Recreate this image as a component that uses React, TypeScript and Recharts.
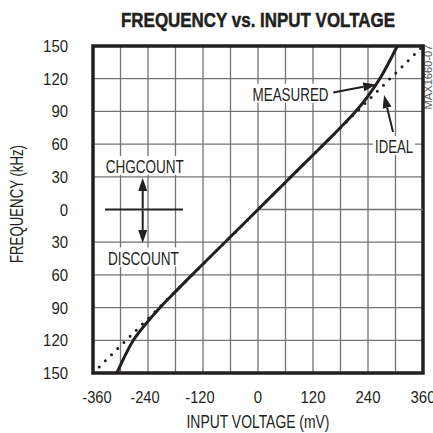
import { CartesianGrid, Line, LineChart, ReferenceArea, ReferenceDot, ReferenceLine, XAxis, YAxis } from 'recharts';

const FONT = '"Liberation Sans", Arial, "DejaVu Sans", sans-serif';
const INK = '#231f20';
const GRID = '#737373';

// axes
const voltageTicks = [-360, -300, -240, -180, -120, -60, 0, 60, 120, 180, 240, 300, 360];
const freqTicks = [-150, -120, -90, -60, -30, 0, 30, 60, 90, 120, 150];
const freqGrid = [-120, -90, -60, -30, 30, 60, 90, 120];

// measured transfer curve (mV -> kHz)
const measuredV = [-308, -272, -245, -215, -180, -150, -120, -60, 0, 60, 120, 150, 180, 210, 240, 270, 304];
const measuredF = [-150, -120, -105, -90.5, -75.3, -62.5, -50, -25, 0, 25, 50, 62.5, 75.3, 88.5, 104, 123, 150];

// ideal transfer line
const idealV = [-360, -300, -240, -180, -120, -60, 0, 60, 120, 180, 240, 300, 360];
const idealF = [-150, -125, -100, -75, -50, -25, 0, 25, 50, 75, 100, 125, 150];

const measured = measuredV.map((v, i) => ({ v, f: measuredF[i] }));
const ideal = idealV.map((v, i) => ({ v, f: idealF[i] }));

// narrow-font look: squeeze glyphs to the measured width
const numWidth = (s: string) => s.replace('-', '').length * 8.3 + (s.startsWith('-') ? 4.5 : 0);

function Arrow({ x1, y1, x2, y2 }: { x1: number; y1: number; x2: number; y2: number }) {
  const len = Math.hypot(x2 - x1, y2 - y1);
  const ux = (x2 - x1) / len;
  const uy = (y2 - y1) / len;
  const head = 13;
  const half = 4.5;
  const bx = x2 - ux * head;
  const by = y2 - uy * head;
  return (
    <g>
      <line x1={x1} y1={y1} x2={bx} y2={by} stroke={INK} strokeWidth={2} />
      <polygon
        points={`${x2},${y2} ${bx - uy * half},${by + ux * half} ${bx + uy * half},${by - ux * half}`}
        fill={INK}
      />
    </g>
  );
}

function Tag({ x, y, text, width }: { x: number; y: number; text: string; width: number }) {
  return (
    <g>
      <rect x={x - width / 2 - 2} y={y - 17} width={width + 4} height={19} fill="#fff" />
      <text
        x={x}
        y={y}
        textAnchor="middle"
        fontFamily={FONT}
        fontSize={19}
        fill={INK}
        textLength={width}
        lengthAdjust="spacingAndGlyphs"
      >
        {text}
      </text>
    </g>
  );
}

function CountMarker({ cx, cy }: any) {
  return (
    <g>
      <Tag x={cx - 3.3} y={cy - 36.6} text="CHGCOUNT" width={78} />
      <Tag x={cx - 4.6} y={cy + 55} text="DISCOUNT" width={71} />
      <line x1={cx - 43} y1={cy} x2={cx + 35} y2={cy} stroke={INK} strokeWidth={2} />
      <Arrow x1={cx - 5.3} y1={cy - 1} x2={cx - 5.3} y2={cy - 31.6} />
      <Arrow x1={cx - 5.3} y1={cy + 1} x2={cx - 5.3} y2={cy + 33.4} />
    </g>
  );
}

function MeasuredNote({ cx, cy }: any) {
  return (
    <g>
      <Tag x={cx - 85.7} y={cy + 16.3} text="MEASURED" width={76} />
      <Arrow x1={cx - 43} y1={cy + 8} x2={cx} y2={cy} />
    </g>
  );
}

function IdealNote({ cx, cy }: any) {
  return (
    <g>
      <Tag x={cx + 10} y={cy + 58} text="IDEAL" width={38} />
      <Arrow x1={cx + 9} y1={cy + 37} x2={cx} y2={cy} />
    </g>
  );
}

function VoltTick({ x, y, payload }: any) {
  const v = payload.value;
  if (v % 120 !== 0) return null;
  const label = String(v);
  const dx = v === -360 ? 4 : v < 0 ? -3 : 0;
  return (
    <text
      x={x + dx}
      y={y + 30}
      textAnchor="middle"
      fontFamily={FONT}
      fontSize={17}
      fill={INK}
      textLength={numWidth(label)}
      lengthAdjust="spacingAndGlyphs"
    >
      {label}
    </text>
  );
}

function FreqTick({ x, y, payload }: any) {
  const label = String(Math.abs(payload.value));
  return (
    <text
      x={x - 25}
      y={y + 6}
      textAnchor="end"
      fontFamily={FONT}
      fontSize={17}
      fill={INK}
      textLength={numWidth(label)}
      lengthAdjust="spacingAndGlyphs"
    >
      {label}
    </text>
  );
}

export default function App() {
  return (
    <div style={{ position: 'absolute', left: 0, top: 0, width: 433, height: 433, background: '#fff' }}>
      <LineChart width={433} height={433} margin={{ top: 46, right: 10, bottom: 30, left: 33 }}>
        <CartesianGrid stroke={GRID} strokeWidth={1.3} horizontalValues={freqGrid} />
        <XAxis
          type="number"
          dataKey="v"
          domain={[-360, 360]}
          ticks={voltageTicks}
          interval={0}
          height={30}
          axisLine={false}
          tickLine={false}
          tickSize={0}
          tickMargin={0}
          tick={<VoltTick />}
        />
        <YAxis
          type="number"
          dataKey="f"
          domain={[-150, 150]}
          ticks={freqTicks}
          interval={0}
          width={60}
          axisLine={false}
          tickLine={false}
          tickSize={0}
          tickMargin={0}
          tick={<FreqTick />}
        />
        <ReferenceLine segment={[{ x: 0, y: 0 }, { x: 360, y: 0 }]} stroke={GRID} strokeWidth={1.3} />
        <Line
          data={ideal}
          dataKey="f"
          type="linear"
          stroke={INK}
          strokeWidth={3}
          strokeDasharray="0 8.7"
          strokeLinecap="round"
          dot={false}
          isAnimationActive={false}
        />
        <Line
          data={measured}
          dataKey="f"
          type="monotone"
          stroke={INK}
          strokeWidth={3}
          dot={false}
          isAnimationActive={false}
        />
        <ReferenceDot x={-240} y={0} r={0} shape={(p: any) => <CountMarker {...p} />} />
        <ReferenceDot x={258} y={114.7} r={0} shape={(p: any) => <MeasuredNote {...p} />} />
        <ReferenceDot x={275} y={105} r={0} shape={(p: any) => <IdealNote {...p} />} />
        <ReferenceArea x1={-360} x2={360} y1={-150} y2={150} fill="none" stroke={INK} strokeWidth={3.5} />
        <text
          x={258}
          y={26.5}
          textAnchor="middle"
          fontFamily={FONT}
          fontWeight={700}
          fontSize={20}
          fill={INK}
          stroke={INK}
          strokeWidth={0.5}
          textLength={274}
          lengthAdjust="spacingAndGlyphs"
        >
          FREQUENCY vs. INPUT VOLTAGE
        </text>
        <text
          x={258}
          y={428}
          textAnchor="middle"
          fontFamily={FONT}
          fontSize={18}
          fill={INK}
          textLength={143}
          lengthAdjust="spacingAndGlyphs"
        >
          INPUT VOLTAGE (mV)
        </text>
        <text
          x={23}
          y={204}
          transform="rotate(-90 23 204)"
          textAnchor="middle"
          fontFamily={FONT}
          fontSize={18}
          fill={INK}
          textLength={118}
          lengthAdjust="spacingAndGlyphs"
        >
          FREQUENCY (kHz)
        </text>
        <text
          x={432}
          y={77}
          transform="rotate(-90 432 77)"
          textAnchor="middle"
          fontFamily={FONT}
          fontSize={10}
          fill="#555"
          textLength={65}
          lengthAdjust="spacingAndGlyphs"
        >
          MAX1660-07
        </text>
      </LineChart>
    </div>
  );
}
